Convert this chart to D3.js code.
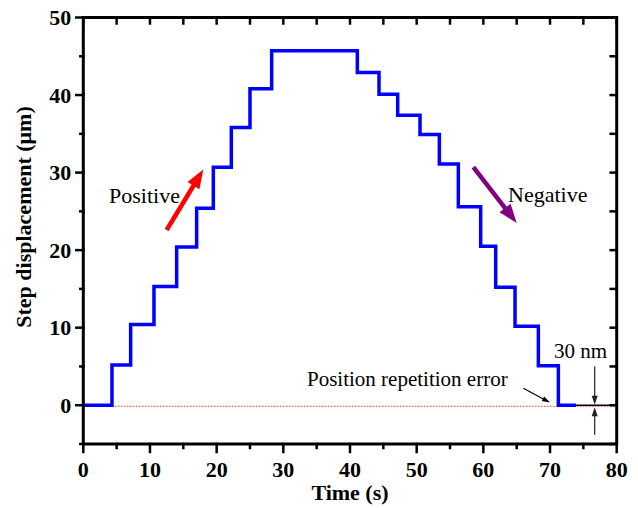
<!DOCTYPE html>
<html>
<head>
<meta charset="utf-8">
<script src="https://cdn.jsdelivr.net/npm/d3@7"></script>
<style>
  body { margin: 0; background: #fff; }
  svg { display: block; font-family: "Times New Roman", "Liberation Serif", serif; }
</style>
</head>
<body>
<div id="chart"></div>
<script>
// ----- dati: istanti dei gradini (s) e livelli (um)
var stepTimes = [0, 4.3, 7.1, 10.6, 14.0, 17.0, 19.5, 22.2, 25.0, 28.25, 41.1, 44.35, 47.15, 50.5, 53.4, 56.25, 59.6, 61.85, 64.75, 68.25, 71.25, 73.9];
var stepLevels = [0, 5.2, 10.4, 15.3, 20.4, 25.4, 30.7, 35.8, 40.8, 45.7, 42.9, 40.1, 37.4, 34.9, 31.1, 25.6, 20.5, 15.2, 10.2, 5.1, 0, 0];

var xTicks = [0, 10, 20, 30, 40, 50, 60, 70, 80];
var yTicks = [0, 10, 20, 30, 40, 50];

// ----- annotazioni in coordinate dati
var posArrow = { from: [12.5, 22.6], to: [18.0, 30.4] };
var negArrow = { from: [58.5, 30.7], to: [65.0, 23.5] };
var errArrow = { from: [66.0, 2.2], to: [70.0, 0.35] };
var dimX = 76.7;

// ----- dimensioni
var w = 638, h = 508;
var m = { left: 83.3, right: 21.3, top: 17.5, bottom: 64 };

var svg = d3.select('#chart').append('svg').attr('width', w).attr('height', h);

var x = d3.scaleLinear().domain([0, 80]).range([m.left, w - m.right]);
var y = d3.scaleLinear().domain([-5, 50]).range([h - m.bottom, m.top]);

var x0 = x(0), x1 = x(80), yb = y(-5), yt = y(50);

// ----- linea rossa tratteggiata di riferimento a 0
svg.append('line')
    .attr('x1', x(stepTimes[1])).attr('x2', x(80))
    .attr('y1', y(0) + 1).attr('y2', y(0) + 1)
    .attr('stroke', '#ff3030').attr('stroke-width', 1.2)
    .attr('stroke-dasharray', '1.5,1.5');

// ----- curva a gradini
var pts = stepTimes.map(function (t, i) { return [t, stepLevels[i]]; });
var line = d3.line()
    .x(function (d) { return x(d[0]); })
    .y(function (d) { return y(d[1]); })
    .curve(d3.curveStepAfter);

svg.append('path')
    .attr('d', line(pts))
    .attr('fill', 'none')
    .attr('stroke', '#0000ff')
    .attr('stroke-width', 3.5)
    .attr('stroke-linejoin', 'miter');

// ----- assi (cornice)
var ax = svg.append('g').attr('stroke', '#000').attr('stroke-linecap', 'square');

ax.append('rect')
    .attr('x', x0).attr('y', yt)
    .attr('width', x1 - x0).attr('height', yb - yt)
    .attr('fill', 'none').attr('stroke-width', 3);

var minorX = d3.range(5, 80, 10);
var allX = d3.range(0, 81, 5);
var minorY = d3.range(-5, 50, 10);
var allY = d3.range(-5, 51, 5);

// bottom: esterni
ax.selectAll('.xmaj').data(xTicks).enter().append('line')
    .attr('x1', function (d) { return x(d); }).attr('x2', function (d) { return x(d); })
    .attr('y1', yb).attr('y2', yb + 8).attr('stroke-width', 2.5);
ax.selectAll('.xmin').data(minorX).enter().append('line')
    .attr('x1', function (d) { return x(d); }).attr('x2', function (d) { return x(d); })
    .attr('y1', yb).attr('y2', yb + 4).attr('stroke-width', 2.5);
// top: interni
ax.selectAll('.xtop').data(allX).enter().append('line')
    .attr('x1', function (d) { return x(d); }).attr('x2', function (d) { return x(d); })
    .attr('y1', yt).attr('y2', yt + 6).attr('stroke-width', 2.5);
// left: esterni
ax.selectAll('.ymaj').data(yTicks).enter().append('line')
    .attr('y1', function (d) { return y(d); }).attr('y2', function (d) { return y(d); })
    .attr('x1', x0 - 7).attr('x2', x0).attr('stroke-width', 2.5);
ax.selectAll('.ymin').data(minorY).enter().append('line')
    .attr('y1', function (d) { return y(d); }).attr('y2', function (d) { return y(d); })
    .attr('x1', x0 - 3).attr('x2', x0).attr('stroke-width', 2.5);
// right: interni
ax.selectAll('.yright').data(allY).enter().append('line')
    .attr('y1', function (d) { return y(d); }).attr('y2', function (d) { return y(d); })
    .attr('x1', x1 - 6).attr('x2', x1).attr('stroke-width', 2.5);

// ----- etichette
svg.selectAll('.xl').data(xTicks).enter().append('text')
    .attr('x', function (d) { return x(d); }).attr('y', yb + 33)
    .attr('text-anchor', 'middle').attr('font-size', 22).attr('font-weight', 'bold')
    .text(function (d) { return d; });

svg.selectAll('.yl').data(yTicks).enter().append('text')
    .attr('x', x0 - 12).attr('y', function (d) { return y(d) + 7.5; })
    .attr('text-anchor', 'end').attr('font-size', 22).attr('font-weight', 'bold')
    .text(function (d) { return d; });

svg.append('text')
    .attr('x', (x0 + x1) / 2).attr('y', 500)
    .attr('text-anchor', 'middle').attr('font-size', 22).attr('font-weight', 'bold')
    .text('Time (s)');

svg.append('text')
    .attr('transform', 'translate(31,' + 217 + ') rotate(-90)')
    .attr('text-anchor', 'middle').attr('font-size', 22).attr('font-weight', 'bold')
    .text('Step displacement (\u03bcm)');

// ----- frecce
function bigArrow(a, color, width, headLen, headW) {
    var xa = x(a.from[0]), ya = y(a.from[1]), xb = x(a.to[0]), yb2 = y(a.to[1]);
    var ang = Math.atan2(yb2 - ya, xb - xa);
    var bx = xb - headLen * Math.cos(ang), by = yb2 - headLen * Math.sin(ang);
    var px = -Math.sin(ang) * headW / 2, py = Math.cos(ang) * headW / 2;
    svg.append('line')
        .attr('x1', xa).attr('y1', ya).attr('x2', bx + 2 * Math.cos(ang)).attr('y2', by + 2 * Math.sin(ang))
        .attr('stroke', color).attr('stroke-width', width);
    svg.append('path')
        .attr('d', 'M' + xb + ',' + yb2 + 'L' + (bx + px) + ',' + (by + py) + 'L' + (bx - px) + ',' + (by - py) + 'Z')
        .attr('fill', color);
}

bigArrow(posArrow, '#ff0000', 4.5, 19, 14);
bigArrow(negArrow, '#800080', 4.5, 19, 14);
bigArrow(errArrow, '#000', 1.2, 8, 5);

// quota 30 nm
svg.append('line')
    .attr('x1', x(stepTimes[stepTimes.length - 1])).attr('x2', x(80))
    .attr('y1', y(0)).attr('y2', y(0))
    .attr('stroke', '#000').attr('stroke-width', 1.5);
bigArrow({ from: [dimX, 5.0], to: [dimX, 0.05] }, '#222', 1.2, 9, 6);
bigArrow({ from: [dimX, -3.8], to: [dimX, -0.25] }, '#222', 1.2, 9, 6);

// ----- testi
svg.append('text').attr('x', 109).attr('y', 203).attr('font-size', 22).text('Positive');
svg.append('text').attr('x', 508).attr('y', 202).attr('font-size', 22).text('Negative');
svg.append('text').attr('x', 307).attr('y', 386).attr('font-size', 21).text('Position repetition error');
svg.append('text').attr('x', 554).attr('y', 358).attr('font-size', 21).text('30 nm');
</script>
</body>
</html>
